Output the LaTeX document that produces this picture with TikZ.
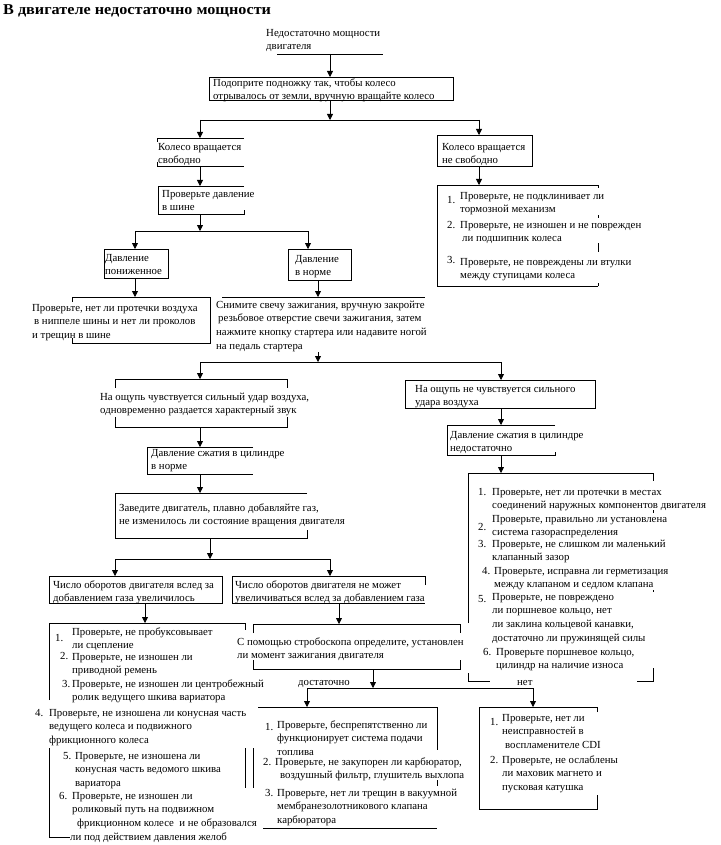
\documentclass[tikz,border=0pt]{standalone}
\usepackage{fontspec}
\setmainfont{Liberation Serif}
\newfontfamily\titlefont[FakeStretch=1.08]{Liberation Serif}
\usetikzlibrary{arrows.meta,fit}
\newcommand\bodyf{\fontsize{10.8}{13.7}\selectfont}
\tikzset{
  tx/.style={anchor=north west, inner sep=0pt, align=left, font=\bodyf, yshift=6.6pt},
  bx/.style={inner sep=0pt, outer sep=0pt, draw=none},
  bd/.style={line width=0.8pt},
  fullbox/.style={bx, draw, line width=0.8pt},
  arr/.style={line width=0.8pt, -{Triangle[width=6pt,length=6pt]}},
  lbl/.style={anchor=base west, inner sep=0pt, font=\bodyf},
}
\newcommand\mytx[4]{\node[tx] (#1) at (#2,#3) {\strut #4};}
\newcommand\mybox[6][bx]{\node[#1, fit={(#3,#4) (#5,#6)}] (#2) {};}
\begin{document}
\begin{tikzpicture}[x=1pt,y=-1pt]
\useasboundingbox[fill=white] (0,0) rectangle (720,845);

% title
\node[anchor=base west, inner sep=0pt, font=\titlefont\fontsize{15}{17}\selectfont\bfseries] (title) at (3,14.5) {В двигателе недостаточно мощности};

% start
\mytx{t0}{266}{33}{Недостаточно мощности\\двигателя}
\mybox{b0}{277}{22}{383}{54}
\draw[bd] (b0.south west) -- (b0.south east);
\coordinate (x330) at (330,0);
\mybox[fullbox]{b1}{209}{77}{453}{100}
\mytx{t1}{213}{83}{Подоприте подножку так, чтобы колесо\\отрывалось от земли, вручную вращайте колесо}
\draw[arr] (b0.south -| x330) -- (b1.north -| x330);

% junction 1
\coordinate (j1) at (330,120);
\coordinate (j1l) at (200,120);
\coordinate (j1r) at (479,120);
\draw[arr] (b1.south -| j1) -- (j1);
\draw[bd] (j1l) -- (j1r);

% wheel rotates freely
\mybox{b2}{157}{138}{244}{166}
\draw[bd] (b2.north west) ++(0,4) -- (b2.north west) -- (b2.north east);
\draw[bd] (b2.south west) ++(0,-4) -- (b2.south west) -- (b2.south east);
\mytx{t2}{158}{147}{Колесо вращается\\свободно}
\draw[arr] (j1l) -- (j1l |- b2.north);

% wheel not free
\mybox[fullbox]{b3}{437}{135}{532}{166}
\mytx{t3}{442}{147}{Колесо вращается\\не свободно}
\draw[arr] (j1r) -- (j1r |- b3.north);

% check tire pressure
\mybox{b4}{158}{186}{244}{214}
\draw[bd] (b4.north east) -- (b4.north west) -- (b4.south west) -- (b4.south east) -- ++(0,-4);
\mytx{t4}{162}{194}{Проверьте давление\\в шине}
\draw[arr] (b2.south -| j1l) -- (b4.north -| j1l);

% right list 1
\mybox{b5}{437}{185}{598}{286}
\draw[bd] (b5.north east) -- (b5.north west) -- (b5.south west) -- (b5.south east);
\draw[bd] (b5.north east) -- ++(0,3);
\draw[bd] (598,215) -- (598,218);
\draw[bd] (598,243) -- (598,252);
\draw[bd] (b5.south east) -- ++(0,-3);
\draw[arr] (b3.south -| j1r) -- (b5.north -| j1r);
\mytx{n51}{447}{200}{1.}
\mytx{t51}{460}{196}{Проверьте, не подклинивает ли\\тормозной механизм}
\mytx{n52}{447}{225}{2.}
\mytx{t52}{460}{225}{Проверьте, не изношен и не поврежден\\\hspace*{2pt}ли подшипник колеса}
\mytx{n53}{447}{260}{3.}
\mytx{t53}{460}{262}{Проверьте, не повреждены ли втулки\\между ступицами колеса}

% junction 2
\coordinate (j2) at (200,231);
\coordinate (j2l) at (135,231);
\coordinate (j2r) at (308,231);
\draw[arr] (b4.south -| j2) -- (j2);
\draw[bd] (j2l) -- (j2r);
\mybox[fullbox]{b6}{104}{249}{168}{278}
\mytx{t6}{105}{258}{Давление\\пониженное}
\mybox[fullbox]{b7}{288}{249}{351}{280}
\mytx{t7}{295}{259}{Давление\\в норме}
\draw[arr] (j2l) -- (j2l |- b6.north);
\draw[arr] (j2r) -- (j2r |- b7.north);

% air leak check
\mybox{b8}{72}{297}{210}{343}
\draw[bd] (b8.north west) ++(0,5) -- (b8.north west) -- (b8.north east) -- (b8.south east) -- (b8.south west) -- ++(0,-5);
\mytx{t8}{32}{308}{Проверьте, нет ли протечки воздуха\\\hspace*{2pt}в ниппеле шины и нет ли проколов\\и трещин в шине}
\draw[arr] (b6.south -| j2l) -- (b8.north -| j2l);

% remove spark plug
\coordinate (x318) at (318,0);
\mybox{b9}{222}{297}{425}{352}
\draw[bd] (b9.north west) -- (b9.north east);
\mytx{t9}{216}{305}{Снимите свечу зажигания, вручную закройте\\\hspace*{2pt}резьбовое отверстие свечи зажигания, затем\\нажмите кнопку стартера или надавите ногой\\на педаль стартера}
\draw[arr] (b7.south -| x318) -- (b9.north -| x318);

% junction 3
\coordinate (j3) at (318,362);
\coordinate (j3l) at (200,362);
\coordinate (j3r) at (501,362);
\draw[arr] (b9.south -| j3) -- (j3);
\draw[bd] (j3l) -- (j3r);

% strong air blow
\mybox{b10}{115}{379}{287}{427}
\draw[bd] (b10.north west) ++(0,9) -- (b10.north west) -- (b10.north east) -- ++(0,9);
\draw[bd] (b10.south west) ++(0,-10) -- (b10.south west) -- (b10.south east) -- ++(0,-10);
\mytx{t10}{100}{397}{На ощупь чувствуется сильный удар воздуха,\\одновременно раздается характерный звук}
\draw[arr] (j3l) -- (j3l |- b10.north);

% no strong air blow
\mybox[fullbox]{b11}{405}{380}{595}{408}
\mytx{t11}{415}{389}{На ощупь не чувствуется сильного\\удара воздуха}
\draw[arr] (j3r) -- (j3r |- b11.north);

% compression normal
\mybox{b12}{147}{447}{253}{474}
\draw[bd] (b12.north east) -- (b12.north west) -- (b12.south west) -- (b12.south east);
\mytx{t12}{151}{453}{Давление сжатия в цилиндре\\в норме}
\draw[arr] (b10.south -| j3l) -- (b12.north -| j3l);

% compression insufficient
\mybox{b13}{447}{425}{555}{455}
\draw[bd] (b13.north east) -- (b13.north west) -- (b13.south west) -- (b13.south east) -- ++(0,-3);
\mytx{t13}{450}{435}{Давление сжатия в цилиндре\\недостаточно}
\draw[arr] (b11.south -| j3r) -- (b13.north -| j3r);

% right list 2
\mybox{b14}{468}{473}{653}{681}
\draw[bd] (468,623) -- (b14.north west) -- (b14.north east) -- ++(0,8);
\draw[bd] (653,510) -- (653,513);
\draw[bd] (653,590) -- (653,592);
\draw[bd] (468,673) -- (b14.south west) -- (490,681);
\draw[bd] (637,681) -- (b14.south east) -- (653,668);
\draw[arr] (b13.south -| j3r) -- (b14.north -| j3r);
\mytx{n141}{478}{492}{1.}
\mytx{t141}{492}{492}{Проверьте, нет ли протечки в местах\\соединений наружных компонентов двигателя}
\mytx{n142}{478}{527}{2.}
\mytx{t142}{492}{519}{Проверьте, правильно ли установлена\\система газораспределения}
\mytx{n143}{478}{544}{3.}
\mytx{t143}{492}{544}{Проверьте, не слишком ли маленький\\клапанный зазор}
\mytx{n144}{482}{571}{4.}
\mytx{t144}{494}{571}{Проверьте, исправна ли герметизация\\между клапаном и седлом клапана}
\mytx{n145}{478}{599}{5.}
\mytx{t145}{492}{597}{Проверьте, не повреждено\\ли поршневое кольцо, нет\\ли заклина кольцевой канавки,\\достаточно ли пружинящей силы}
\mytx{n146}{483}{652}{6.}
\mytx{t146}{496}{652}{Проверьте поршневое кольцо,\\цилиндр на наличие износа}

% start the engine
\mybox{bz}{115}{493}{307}{538}
\draw[bd] (bz.north east) -- (bz.north west) -- (bz.south west) -- (bz.south east) -- ++(0,-8);
\mytx{tz}{119}{508}{Заведите двигатель, плавно добавляйте газ,\\не изменилось ли состояние вращения двигателя}
\draw[arr] (b12.south -| j3l) -- (bz.north -| j3l);

% junction 4
\coordinate (j4) at (210,559);
\coordinate (j4l) at (115,559);
\coordinate (j4r) at (330,559);
\draw[arr] (bz.south -| j4) -- (j4);
\draw[bd] (j4l) -- (j4r);

% rpm increased
\mybox[fullbox]{b15}{49}{576}{222}{603}
\mytx{t15}{53}{585}{Число оборотов двигателя вслед за\\добавлением газа увеличилось}
\draw[arr] (j4l) -- (j4l |- b15.north);

% rpm not increasing
\mybox{b16}{232}{576}{425}{603}
\draw[bd] (425,585) -- (b16.north east) -- (b16.north west) -- (b16.south west) -- (b16.south east);
\mytx{t16}{235}{585}{Число оборотов двигателя не может\\увеличиваться вслед за добавлением газа}
\draw[arr] (j4r) -- (j4r |- b16.north);

% left list
\coordinate (x145) at (145,0);
\mybox{b17}{49}{623}{245}{837}
\draw[bd] (49,700) -- (b17.north west) -- (b17.north east) -- (245,630);
\draw[bd] (49,748) -- (b17.south west) -- (70,837);
\draw[bd] (245,748) -- (245,788);
\draw[arr] (b15.south -| x145) -- (b17.north -| x145);
\mytx{n171}{55}{638}{1.}
\mytx{t171}{72}{632}{Проверьте, не пробуксовывает\\ли сцепление}
\mytx{n172}{60}{656}{2.}
\mytx{t172}{72}{657}{Проверьте, не изношен ли\\приводной ремень}
\mytx{n173}{62}{684}{3.}
\mytx{t173}{72}{684}{Проверьте, не изношен ли центробежный\\ролик ведущего шкива вариатора}
\mytx{n174}{35}{713}{4.}
\mytx{t174}{49}{713}{Проверьте, не изношена ли конусная часть\\ведущего колеса и подвижного\\фрикционного колеса}
\mytx{n175}{63}{756}{5.}
\mytx{t175}{75}{756}{Проверьте, не изношена ли\\конусная часть ведомого шкива\\вариатора}
\mytx{n176}{59}{796}{6.}
\mytx{t176}{72}{796}{Проверьте, не изношен ли\\роликовый путь на подвижном\\\hspace*{5pt}фрикционном колесе\ \ и не образовался\\\hspace*{-2pt}ли под действием давления желоб}

% stroboscope
\coordinate (x339) at (339,0);
\mybox{b18}{253}{624}{460}{669}
\draw[bd] (b18.north west) ++(0,9) -- (b18.north west) -- (b18.north east) -- ++(0,9);
\draw[bd] (b18.south west) ++(0,-9) -- (b18.south west) -- (b18.south east) -- ++(0,-9);
\mytx{t18}{237}{642}{С помощью стробоскопа определите, установлен\\ли момент зажигания двигателя}
\draw[arr] (b16.south -| x339) -- (b18.north -| x339);

% junction 5
\coordinate (j5) at (373,688);
\coordinate (j5l) at (307,688);
\coordinate (j5r) at (533,688);
\draw[arr] (b18.south -| j5) -- (j5);
\draw[bd] (j5l) -- (j5r);
\node[lbl] (ld) at (298,685) {достаточно};
\node[lbl] (ln) at (517,685) {нет};

% sufficient list
\mybox{b19}{253}{707}{437}{828}
\draw[bd] (258,707) -- (b19.north east) -- (437,750);
\draw[bd] (437,780) -- (437,786);
\draw[bd] (263,828) -- (b19.south east);
\draw[bd] (253,748) -- (253,788);
\draw[arr] (j5l) -- (j5l |- b19.north);
\mytx{n191}{265}{727}{1.}
\mytx{t191}{277}{725}{Проверьте, беспрепятственно ли\\функционирует система подачи\\топлива}
\mytx{n192}{263}{762}{2.}
\mytx{t192}{275}{762}{Проверьте, не закупорен ли карбюратор,\\\hspace*{5pt}воздушный фильтр, глушитель выхлопа}
\mytx{n193}{265}{793}{3.}
\mytx{t193}{277}{793}{Проверьте, нет ли трещин в вакуумной\\мембранезолотникового клапана\\карбюратора}

% no list
\mybox{b20}{479}{707}{597}{809}
\draw[bd] (597,712) -- (b20.north east) -- (b20.north west) -- (b20.south west) -- (b20.south east) -- (597,795);
\draw[arr] (j5r) -- (j5r |- b20.north);
\mytx{n201}{490}{722}{1.}
\mytx{t201}{502}{718}{Проверьте, нет ли\\неисправностей в\\\hspace*{3pt}воспламенителе CDI}
\mytx{n202}{490}{760}{2.}
\mytx{t202}{502}{760}{Проверьте, не ослаблены\\ли маховик магнето и\\пусковая катушка}
\end{tikzpicture}
\end{document}
